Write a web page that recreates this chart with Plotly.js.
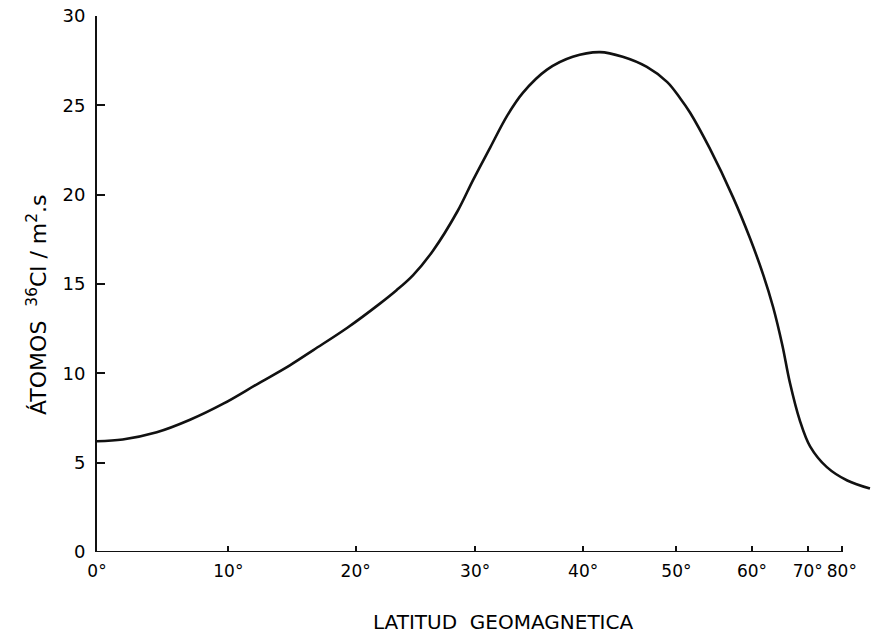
<!DOCTYPE html>
<html>
<head>
<meta charset="utf-8">
<script src="https://cdn.plot.ly/plotly-3.0.1.min.js"></script>
<style>html,body{margin:0;padding:0;background:#fff}#chart{width:873px;height:636px}</style>
</head>
<body>
<div id="chart"></div>
<script>
// Curve. The x axis is drawn in sin(latitude) units.
var sinLat = [0, 0.034, 0.079, 0.123, 0.167, 0.212, 0.255, 0.286, 0.331, 0.374, 0.396, 0.418, 0.444, 0.477, 0.497, 0.520, 0.542, 0.563, 0.595, 0.629, 0.665, 0.695, 0.727, 0.754, 0.771, 0.784, 0.810, 0.841, 0.863, 0.881, 0.894, 0.906, 0.916, 0.929, 0.943, 0.965, 0.992, 1.022];
var atoms  = [6.2, 6.3, 6.7, 7.4, 8.3, 9.4, 10.45, 11.3, 12.55, 13.9, 14.65, 15.5, 16.85, 19.1, 20.8, 22.65, 24.4, 25.7, 27.0, 27.72, 27.98, 27.72, 27.15, 26.3, 25.4, 24.6, 22.6, 19.85, 17.6, 15.5, 13.7, 11.6, 9.5, 7.4, 5.9, 4.75, 4.0, 3.55];
var latTicks = [0, 10, 20, 30, 40, 50, 60, 70, 80];
var yTicks = [0, 5, 10, 15, 20, 25, 30];

var toSin = function(d){ return Math.sin(d * Math.PI / 180); };
var font = {family: 'DejaVu Sans, Liberation Sans, sans-serif', color: '#000'};

var trace = {
  x: sinLat, y: atoms, type: 'scatter', mode: 'lines',
  line: {color: '#111', width: 2.6, shape: 'spline', smoothing: 1},
  hoverinfo: 'skip'
};

var layout = {
  width: 873, height: 636,
  margin: {l: 97, r: 0, t: 16, b: 84},
  paper_bgcolor: '#fff', plot_bgcolor: '#fff',
  showlegend: false,
  xaxis: {
    range: [0, 1.026], showgrid: false, zeroline: false, showline: false,
    tickmode: 'array', tickvals: latTicks.map(toSin), ticktext: latTicks.map(function(d){return d + '°';}),
    ticks: 'inside', ticklen: 6, tickwidth: 2, tickcolor: '#111',
    ticklabelstandoff: 7,
    tickfont: Object.assign({size: 17}, font)
  },
  yaxis: {
    range: [0, 30], showgrid: false, zeroline: false,
    showline: true, linewidth: 2, linecolor: '#111',
    tickmode: 'array', tickvals: yTicks, ticktext: yTicks.map(String),
    ticks: 'inside', ticklen: 8, tickwidth: 2, tickcolor: '#111',
    ticklabelstandoff: 6,
    tickfont: Object.assign({size: 18}, font)
  },
  shapes: [{
    type: 'line', xref: 'x', yref: 'y',
    x0: 0, x1: toSin(latTicks[latTicks.length - 1]), y0: 0, y1: 0,
    line: {color: '#111', width: 2}
  }],
  annotations: [
    {text: 'LATITUD  GEOMAGNETICA', xref: 'paper', yref: 'paper',
     x: (503 - 97) / 776, y: -(622 - 552) / 536, xanchor: 'center', yanchor: 'middle',
     showarrow: false, font: Object.assign({size: 20}, font)},
    {text: 'ÁTOMOS\u00a0\u00a0<sup>36</sup>Cl\u00a0/\u00a0m<sup>2</sup>.s', xref: 'paper', yref: 'paper',
     x: -(97 - 37) / 776, y: (552 - 305) / 536, xanchor: 'center', yanchor: 'middle',
     textangle: -90, showarrow: false, font: Object.assign({size: 22}, font)}
  ]
};

Plotly.newPlot('chart', [trace], layout, {displayModeBar: false, staticPlot: true});
</script>
</body>
</html>
